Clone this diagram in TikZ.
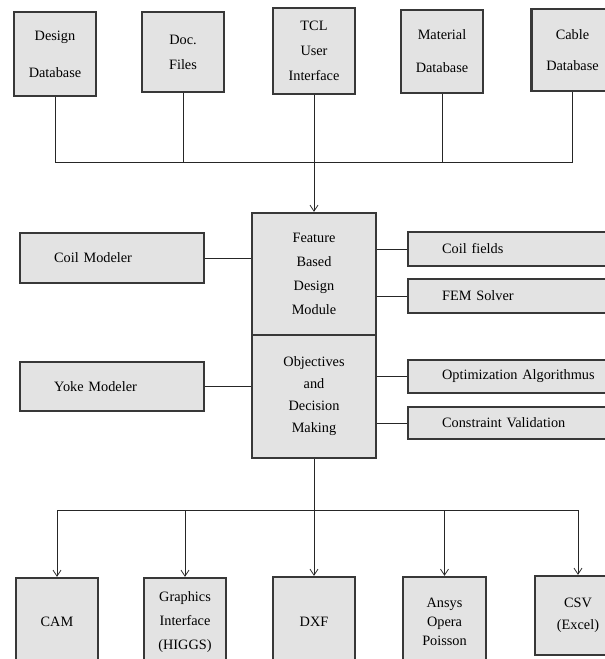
\documentclass[tikz,border=0pt]{standalone}
\usepackage{fontspec}
\setmainfont{Liberation Serif}
\usetikzlibrary{positioning, arrows.meta, calc}

\begin{document}
\begin{tikzpicture}[
  x=1pt, y=-1pt,
  font=\fontsize{14.3}{17}\selectfont,
  blk/.style={draw=black!78, line width=2.3pt, fill=black!11, align=center,
    inner sep=0pt},
  tall/.style={blk, minimum width=82pt, minimum height=84pt},
  wide/.style={blk, align=left, inner xsep=34pt, anchor=west},
  line/.style={black!85, line width=0.8pt},
  arrow/.style={line, -{Straight Barb[length=6pt,width=8pt]}},
]
  \useasboundingbox (0,0) rectangle (605,659);
  \clip (0,0) rectangle (605,659);

  % data sources
  \node[tall] (design) at (55,54) {Design\\[20pt]Database};
  \node[tall, minimum height=80pt] (doc) at (183,52) {Doc.\\[8pt]Files};
  \node[tall, minimum height=86pt] (tcl) at (314,51) {TCL\\[8pt]User\\[8pt]Interface};
  \node[tall, minimum height=83pt] (material) at (442,51.5) {Material\\[16pt]Database};
  \node[tall, minimum height=82pt] (cable) at (572.5,50) {Cable\\[14pt]Database};

  % core modules
  \node[blk, minimum width=124pt, minimum height=122pt] (feature) at (314,274)
    {Feature\\[7pt]Based\\[7pt]Design\\[7pt]Module};
  \node[blk, minimum width=124pt, minimum height=123pt] (objectives) at (314,396.5)
    {Objectives\\[5pt]and\\[5pt]Decision\\[5pt]Making};

  \node[wide, minimum height=50pt, text width=116pt] (coilmod) at (19,258) {Coil Modeler};
  \node[wide, minimum height=49pt, text width=116pt] (yokemod) at (19,386.5) {Yoke Modeler};

  \node[wide, minimum height=34pt, text width=170pt] (coilfields) at (407,249) {Coil fields};
  \node[wide, minimum height=34pt, text width=170pt] (femsolver) at (407,296) {FEM Solver};
  \node[wide, minimum height=33pt, text width=170pt] (optim) at (407,376.5) {Optimization Algorithmus};
  \node[wide, minimum height=32pt, text width=170pt] (constraint) at (407,423) {Constraint Validation};

  % outputs
  \node[tall, minimum height=88pt] (cam) at (57,622) {CAM};
  \node[tall, minimum height=88pt] (graphics) at (185,622)
    {Graphics\\[7pt]Interface\\[7pt](HIGGS)};
  \node[tall, minimum height=90pt] (dxf) at (314,622) {DXF};
  \node[tall, minimum height=90pt, minimum width=83pt] (ansys) at (444.5,622)
    {Ansys\\[2pt]Opera\\[2pt]Poisson};
  \node[tall, minimum height=79pt, minimum width=86pt] (csv) at (578,615.5)
    {CSV\\[5pt](Excel)};

  \coordinate (topbus) at (314,162);
  \coordinate (botbus) at (314,510);

  \foreach \n in {design, doc, material, cable}
    \draw[line] (\n.south) |- (topbus);
  \draw[arrow] (tcl) -- (feature);

  \foreach \n/\m in {coilmod/feature, yokemod/objectives}
    \draw[line] (\n.east) -- (\n.east -| \m.west);
  \foreach \n/\m in {coilfields/feature, femsolver/feature,
                     optim/objectives, constraint/objectives}
    \draw[line] (\n.west) -- (\n.west -| \m.east);

  \draw[line] (objectives) -- (botbus);
  \foreach \n in {cam, graphics, dxf, ansys, csv}
    \draw[arrow] (botbus) -| (\n);
\end{tikzpicture}
\end{document}
